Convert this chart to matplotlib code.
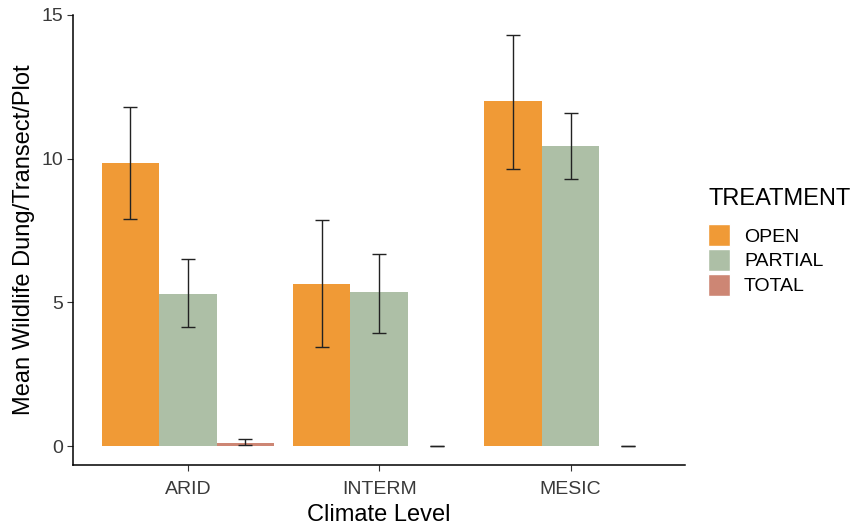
import numpy as np
import matplotlib.pyplot as plt
from matplotlib.patches import Patch

plt.rcParams['font.family'] = ['Liberation Sans', 'DejaVu Sans']

# Mean dung counts and error bar limits per climate level
climates = ['ARID', 'INTERM', 'MESIC']
treatments = ['OPEN', 'PARTIAL', 'TOTAL']
means = {
    'OPEN':    [9.85, 5.65, 12.0],
    'PARTIAL': [5.30, 5.35, 10.45],
    'TOTAL':   [0.12, 0.0, 0.0],
}
lower = {
    'OPEN':    [7.90, 3.45, 9.65],
    'PARTIAL': [4.15, 3.95, 9.30],
    'TOTAL':   [0.02, 0.0, 0.0],
}
upper = {
    'OPEN':    [11.80, 7.85, 14.30],
    'PARTIAL': [6.50, 6.70, 11.60],
    'TOTAL':   [0.25, 0.0, 0.0],
}
colors = {'OPEN': '#F09A36', 'PARTIAL': '#ADBFA6', 'TOTAL': '#CD8674'}

fig = plt.figure(figsize=(8.54, 5.27), dpi=100)
ax = fig.add_axes([0.0855, 0.1176, 0.717, 0.854])

x = np.arange(1, len(climates) + 1)
w = 0.3
for i, t in enumerate(treatments):
    xi = x + (i - 1) * w
    m = np.array(means[t])
    ax.bar(xi, m, width=w, color=colors[t], edgecolor='none', zorder=2)
    err = [m - np.array(lower[t]), np.array(upper[t]) - m]
    ax.errorbar(xi, m, yerr=err, fmt='none', ecolor='#222222',
                elinewidth=1.0, capsize=5, capthick=1.0, zorder=3)

ax.set_xlim(0.4, 3.6)
ax.set_ylim(-0.66, 15.0)
ax.set_xticks(x)
ax.set_xticklabels(climates)
ax.set_yticks([0, 5, 10, 15])
ax.tick_params(axis='both', colors='#333333', labelsize=14, length=4,
               width=0.8, labelcolor='#3A3A3A')
ax.tick_params(axis='x', pad=7.5)
ax.tick_params(axis='y', pad=3)
for s in ['top', 'right']:
    ax.spines[s].set_visible(False)
for s in ['left', 'bottom']:
    ax.spines[s].set_color('black')
    ax.spines[s].set_linewidth(1.1)

ax.set_xlabel('Climate Level', fontsize=17, labelpad=4)
ax.set_ylabel('Mean Wildlife Dung/Transect/Plot', fontsize=17, labelpad=5)

# legend: title as separate text, keys below it
fig.text(709 / 854, 1 - 199 / 527, 'TREATMENT', fontsize=17,
         ha='left', va='center')
handles = [Patch(facecolor=colors[t], edgecolor='white', label=t) for t in treatments]
leg = fig.legend(handles=handles, loc='upper left',
                 bbox_to_anchor=(708 / 854, 1 - 224 / 527), frameon=False,
                 fontsize=14, handlelength=1.15, handleheight=1.4,
                 handletextpad=0.7, labelspacing=0.12, borderaxespad=0,
                 borderpad=0)

fig.savefig('out.png', dpi=100)
